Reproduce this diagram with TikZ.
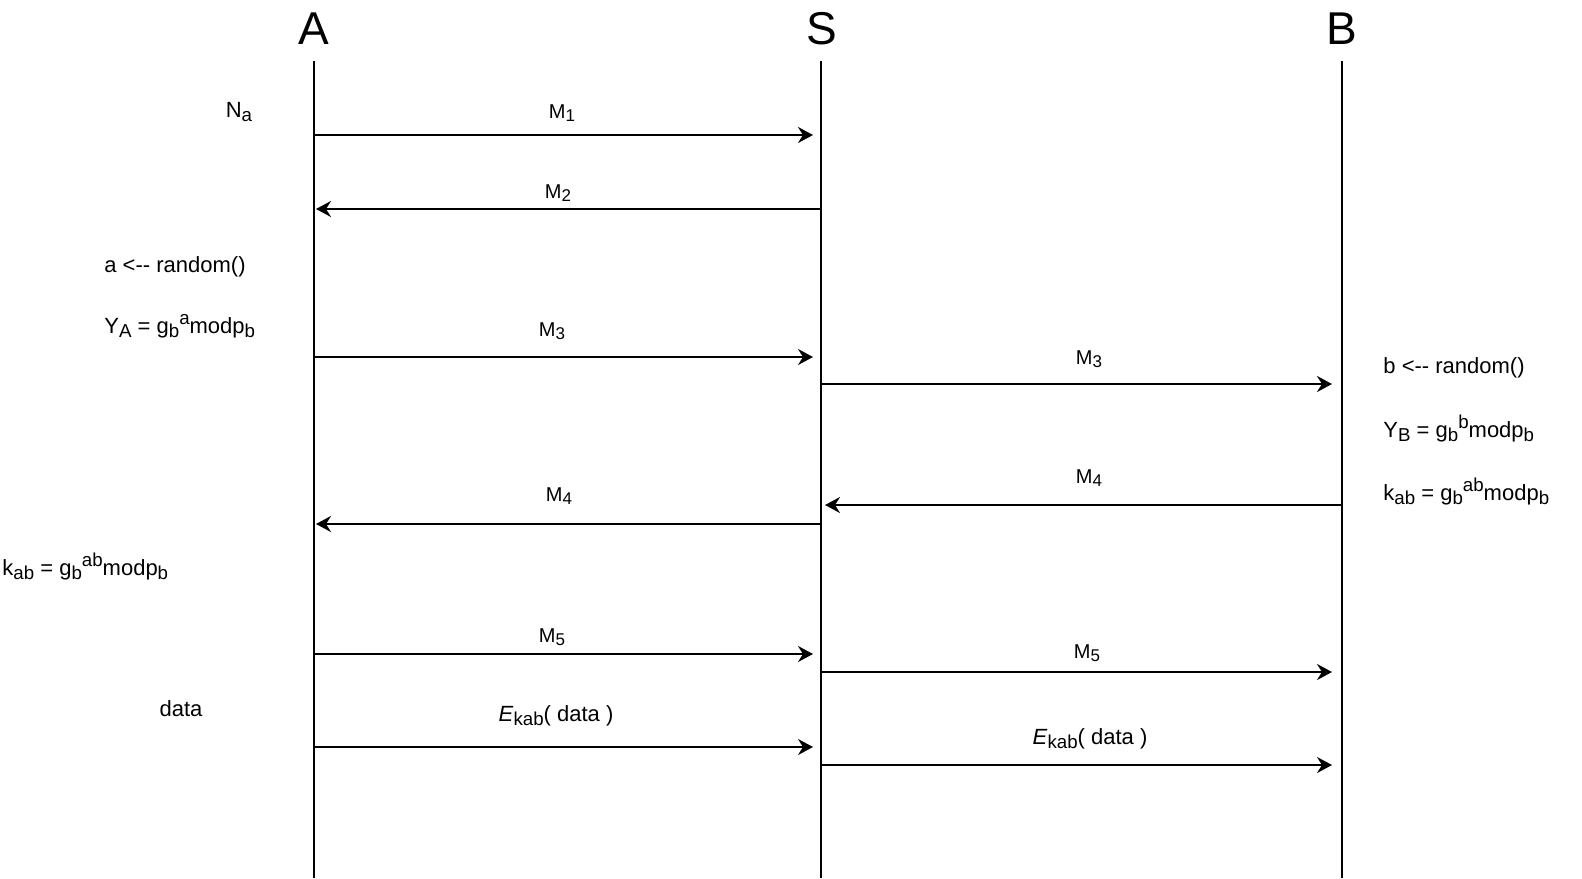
\documentclass[tikz,border=0pt]{standalone}
\usepackage{fontspec}
\setmainfont{Liberation Sans}
\usepackage{graphicx}
\usetikzlibrary{arrows.meta,positioning}
\newcommand{\lo}[1]{\raisebox{-0.35ex}{\scalebox{0.85}{#1}}}
\newcommand{\hi}[1]{\raisebox{0.75ex}{\scalebox{0.85}{#1}}}

\begin{document}
\begin{tikzpicture}[
    x=0.5pt, y=-0.5pt,
    party/.style={inner sep=0pt, anchor=base, font=\fontsize{23}{26}\selectfont},
    life/.style={line width=1pt},
    msg/.style={inner sep=0pt, anchor=base, font=\fontsize{10}{12}\selectfont},
    calc/.style={inner sep=0pt, anchor=base west, font=\fontsize{11}{13}\selectfont},
    arr/.style={-{Stealth[length=7.5pt, width=8pt, inset=2.5pt]}, line width=1pt}
]
\useasboundingbox (0,0) rectangle (1582,878);

% parties and lifelines
\node[party] (hA) at (314,44) {A};
\node[party] (hS) at (822,44) {S};
\node[party] (hB) at (1342,44) {B};
\coordinate (Atop) at (314,61);  \coordinate (Abot) at (314,878);
\coordinate (Stop) at (821,61);  \coordinate (Sbot) at (821,878);
\coordinate (Btop) at (1342,61); \coordinate (Bbot) at (1342,878);
\draw[life] (Atop) -- (Abot);
\draw[life] (Stop) -- (Sbot);
\draw[life] (Btop) -- (Bbot);

% message end points
\coordinate (a1) at (314,135); \coordinate (s1) at (813,135);
\coordinate (s2) at (821,209); \coordinate (a2) at (316,209);
\coordinate (a3) at (314,357); \coordinate (s3) at (813,357);
\coordinate (s3b) at (821,384); \coordinate (b3) at (1332,384);
\coordinate (b4) at (1342,505); \coordinate (s4b) at (825,505);
\coordinate (s4) at (821,524); \coordinate (a4) at (316,524);
\coordinate (a5) at (314,654); \coordinate (s5) at (813,654);
\coordinate (s5b) at (821,672); \coordinate (b5) at (1332,672);
\coordinate (a6) at (314,747); \coordinate (s6) at (813,747);
\coordinate (s6b) at (821,765); \coordinate (b6) at (1332,765);

\draw[arr] (a1) -- (s1);
\draw[arr] (s2) -- (a2);
\draw[arr] (a3) -- (s3);
\draw[arr] (s3b) -- (b3);
\draw[arr] (b4) -- (s4b);
\draw[arr] (s4) -- (a4);
\draw[arr] (a5) -- (s5);
\draw[arr] (s5b) -- (b5);
\draw[arr] (a6) -- (s6);
\draw[arr] (s6b) -- (b6);

% message labels
\node[msg] (m1) at (562,118) {M\lo{1}};
\node[msg] (m2) at (558,198) {M\lo{2}};
\node[msg] (m3) at (552,336) {M\lo{3}};
\node[msg] (m3b) at (1089,364) {M\lo{3}};
\node[msg] (m4b) at (1089,483) {M\lo{4}};
\node[msg] (m4) at (559,501) {M\lo{4}};
\node[msg] (m5) at (552,642) {M\lo{5}};
\node[msg] (m5b) at (1087,658) {M\lo{5}};
\node[msg, font=\fontsize{11}{13}\selectfont] (m6) at (556,721) {\textit{E}\lo{kab}( data )};
\node[msg, font=\fontsize{11}{13}\selectfont] (m6b) at (1090,744) {\textit{E}\lo{kab}( data )};

% local computations
\node[calc, anchor=base] (na) at (239,117) {N\lo{a}};
\node[calc] (ra) at (104,272) {a <-{}- random()};
\node[calc] (ya) at (104,333) {Y\lo{A} = g\lo{b}\hi{a}modp\lo{b}};
\node[calc] (ka) at (2,575) {k\lo{ab} = g\lo{b}\hi{ab}modp\lo{b}};
\node[calc, anchor=base] (da) at (181,716) {data};
\node[calc] (rb) at (1383,373) {b <-{}- random()};
\node[calc] (yb) at (1383,437) {Y\lo{B} = g\lo{b}\hi{b}modp\lo{b}};
\node[calc] (kb) at (1383,500) {k\lo{ab} = g\lo{b}\hi{ab}modp\lo{b}};
\end{tikzpicture}
\end{document}
